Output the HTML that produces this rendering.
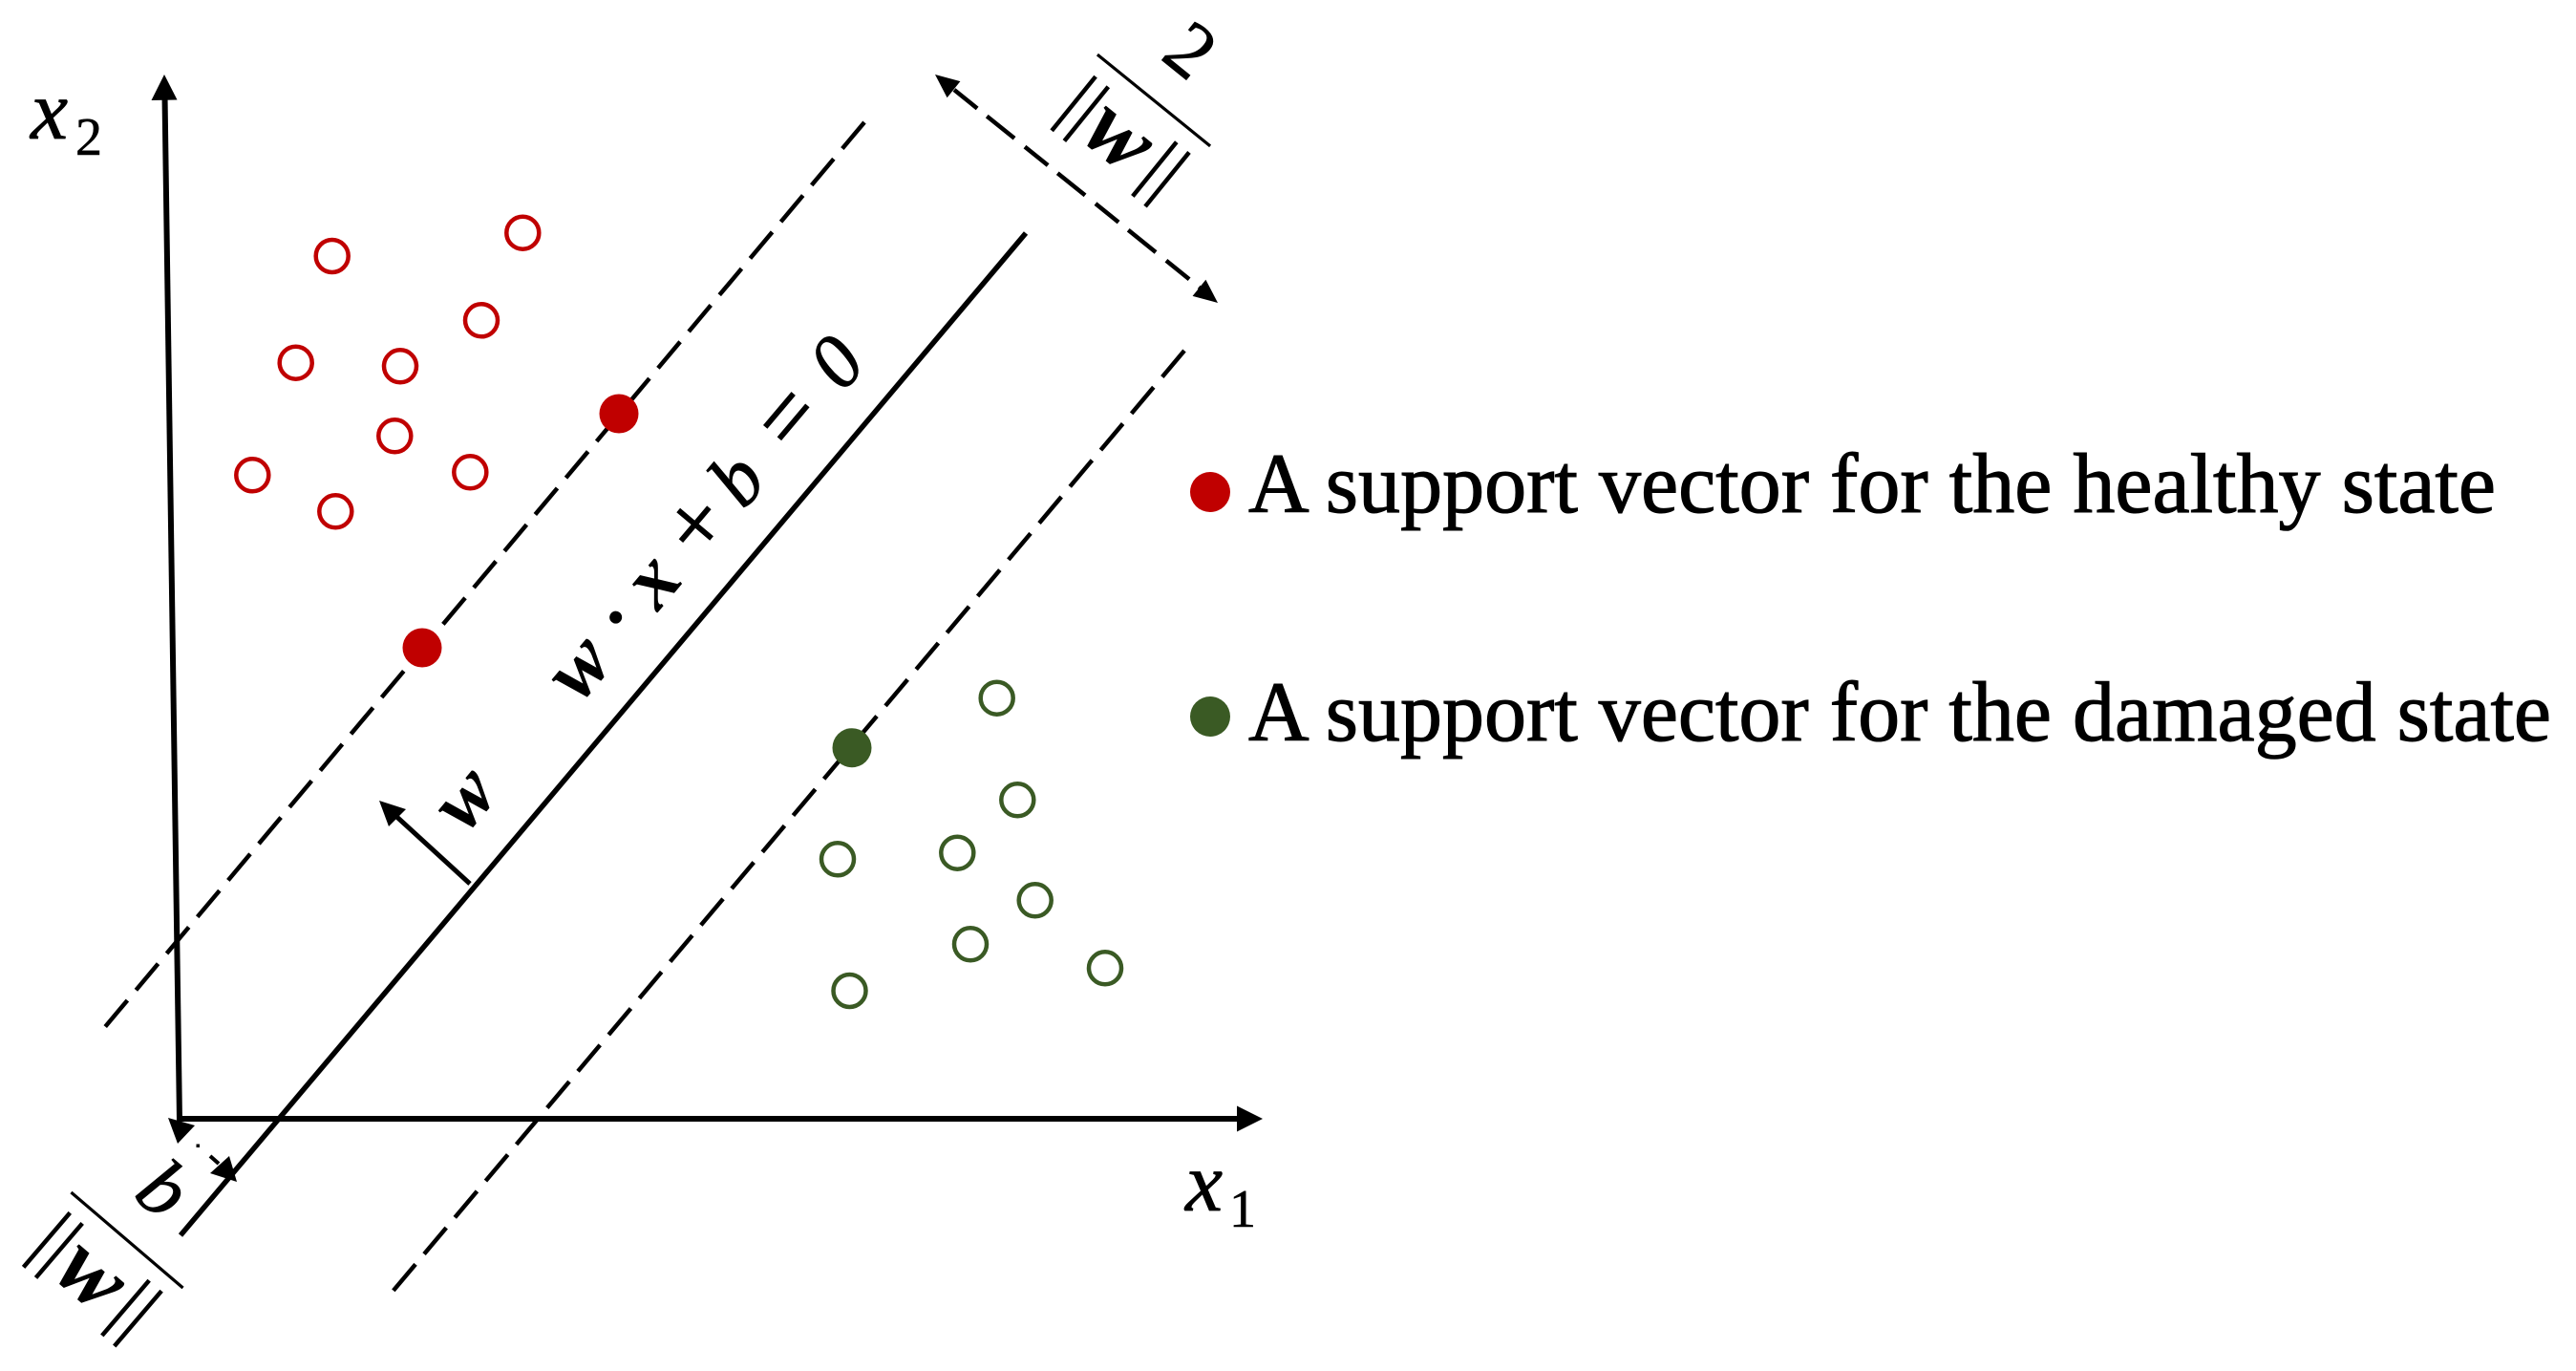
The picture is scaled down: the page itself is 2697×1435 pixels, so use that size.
<!DOCTYPE html>
<html><head><meta charset="utf-8"><style>
html,body{margin:0;padding:0;background:#fff;}
svg{display:block;}
text{font-family:"Liberation Serif",serif;}
</style></head><body>
<svg width="2697" height="1435" viewBox="0 0 2697 1435" xmlns="http://www.w3.org/2000/svg">
<rect width="2697" height="1435" fill="#fff"/>

<!-- axes -->
<line x1="188" y1="1174" x2="172.5" y2="100" stroke="#000" stroke-width="6"/>
<polygon points="172,78 158.5,105 185.5,104.5" fill="#000"/>
<line x1="185" y1="1171" x2="1298" y2="1171" stroke="#000" stroke-width="6"/>
<polygon points="1322,1171 1295,1157.5 1295,1184.5" fill="#000"/>

<!-- axis labels -->
<text x="32" y="145" font-size="88" font-style="italic" stroke="#000" stroke-width="0.8">x</text>
<text x="79" y="162" font-size="56" stroke="#000" stroke-width="0.6">2</text>
<text x="1241" y="1267" font-size="88" font-style="italic" stroke="#000" stroke-width="0.8">x</text>
<text x="1287" y="1284" font-size="56" stroke="#000" stroke-width="0.6">1</text>

<!-- hyperplane and margins -->
<line x1="1074" y1="244" x2="189" y2="1293" stroke="#000" stroke-width="5.5"/>
<line x1="905" y1="128" x2="104" y2="1082" stroke="#000" stroke-width="4.5" stroke-dasharray="36 14"/>
<line x1="1240" y1="367" x2="405" y2="1359" stroke="#000" stroke-width="4.5" stroke-dasharray="36 14"/>

<!-- margin double arrow -->
<line x1="999" y1="94" x2="1256" y2="301" stroke="#000" stroke-width="4.5" stroke-dasharray="31 13 37 14"/>
<polygon points="979,78 991.6,102.3 1005.4,85.1" fill="#000"/>
<polygon points="1275,317 1248.6,309.9 1262.4,292.7" fill="#000"/>

<!-- top fraction 2/||w|| -->
<g transform="translate(1208,105) rotate(39)">
  <line x1="-76" y1="0" x2="76" y2="0" stroke="#000" stroke-width="3.2"/>
  <text x="-3" y="-38" font-size="82" text-anchor="middle" stroke="#000" stroke-width="0.8">2</text>
  <line x1="-63" y1="19" x2="-63" y2="92" stroke="#000" stroke-width="4.5"/>
  <line x1="-46" y1="19" x2="-46" y2="92" stroke="#000" stroke-width="4.5"/>
  <line x1="46" y1="19" x2="46" y2="92" stroke="#000" stroke-width="4.5"/>
  <line x1="63" y1="19" x2="63" y2="92" stroke="#000" stroke-width="4.5"/>
  <text x="-4" y="80" font-size="96" font-style="italic" font-weight="bold" text-anchor="middle">w</text>
</g>

<!-- bottom fraction b/||w|| -->
<g transform="translate(133,1298) rotate(40.5)">
  <line x1="-77" y1="0" x2="77" y2="0" stroke="#000" stroke-width="3.2"/>
  <text x="-5" y="-38" font-size="84" font-style="italic" text-anchor="middle" stroke="#000" stroke-width="0.8">b</text>
  <line x1="-64" y1="17" x2="-64" y2="92" stroke="#000" stroke-width="4.5"/>
  <line x1="-47" y1="17" x2="-47" y2="92" stroke="#000" stroke-width="4.5"/>
  <line x1="45" y1="17" x2="45" y2="93" stroke="#000" stroke-width="4.5"/>
  <line x1="62" y1="17" x2="62" y2="93" stroke="#000" stroke-width="4.5"/>
  <text x="-4" y="80" font-size="96" font-style="italic" font-weight="bold" text-anchor="middle">w</text>
</g>

<!-- small distance arrows near origin -->
<polygon points="176,1170 204,1178 186,1197" fill="#000"/>
<rect x="205.5" y="1197.5" width="3.5" height="3.5" fill="#000"/>
<line x1="220" y1="1210" x2="229" y2="1218" stroke="#000" stroke-width="4"/>
<polygon points="220,1228 240,1210 248,1237" fill="#000"/>

<!-- normal vector arrow -->
<line x1="492" y1="925" x2="410" y2="850" stroke="#000" stroke-width="5"/>
<polygon points="397,838 407,865 425,847" fill="#000"/>
<text transform="translate(506,852) rotate(-50)" x="0" y="0" font-size="84" font-style="italic" font-weight="bold" text-anchor="middle">w</text>

<!-- equation -->
<g transform="translate(608.5,736) rotate(-49.8)">
  <text x="27" y="0" font-size="86" text-anchor="middle" font-style="italic" font-weight="bold">w</text>
  <text x="92" y="-4" font-size="80" text-anchor="middle" font-weight="bold">·</text>
  <text x="146" y="0" font-size="86" text-anchor="middle" font-style="italic" font-weight="bold">x</text>
  <text x="220" y="2" font-size="96" text-anchor="middle" stroke="#000" stroke-width="1">+</text>
  <text x="284" y="0" font-size="82" text-anchor="middle" font-style="italic" stroke="#000" stroke-width="0.9">b</text>
  <text x="368" y="2" font-size="96" text-anchor="middle" stroke="#000" stroke-width="1">=</text>
  <text x="445" y="0" font-size="80" text-anchor="middle" font-style="italic" stroke="#000" stroke-width="0.9">0</text>
</g>

<!-- red points -->
<g fill="none" stroke="#C00000" stroke-width="4.5">
  <circle cx="347.7" cy="268" r="17"/>
  <circle cx="547.3" cy="243.7" r="17"/>
  <circle cx="504" cy="335.3" r="17"/>
  <circle cx="309.7" cy="379.7" r="17"/>
  <circle cx="419" cy="383.3" r="17"/>
  <circle cx="413.3" cy="456.3" r="17"/>
  <circle cx="264.3" cy="497.3" r="17"/>
  <circle cx="492.3" cy="494.3" r="17"/>
  <circle cx="351.3" cy="535.3" r="17"/>
</g>
<circle cx="648" cy="433" r="20.5" fill="#C00000"/>
<circle cx="442" cy="678" r="20.5" fill="#C00000"/>

<!-- green points -->
<g fill="none" stroke="#3A5A24" stroke-width="4.5">
  <circle cx="1043.7" cy="730.7" r="17"/>
  <circle cx="1065.3" cy="837.3" r="17"/>
  <circle cx="877" cy="899.3" r="17"/>
  <circle cx="1002.3" cy="892.7" r="17"/>
  <circle cx="1083.7" cy="942.3" r="17"/>
  <circle cx="1016" cy="988.3" r="17"/>
  <circle cx="1157" cy="1013.3" r="17"/>
  <circle cx="889.5" cy="1037" r="17"/>
</g>
<circle cx="892" cy="782.7" r="20.5" fill="#3A5A24"/>

<!-- legend -->
<circle cx="1267" cy="515" r="21" fill="#C00000"/>
<text x="1307" y="536" font-size="89" textLength="1306" lengthAdjust="spacingAndGlyphs" stroke="#000" stroke-width="1.1">A support vector for the healthy state</text>
<circle cx="1267" cy="750" r="21" fill="#3A5A24"/>
<text x="1307" y="775" font-size="89" textLength="1364" lengthAdjust="spacingAndGlyphs" stroke="#000" stroke-width="1.1">A support vector for the damaged state</text>
</svg>
</body></html>
